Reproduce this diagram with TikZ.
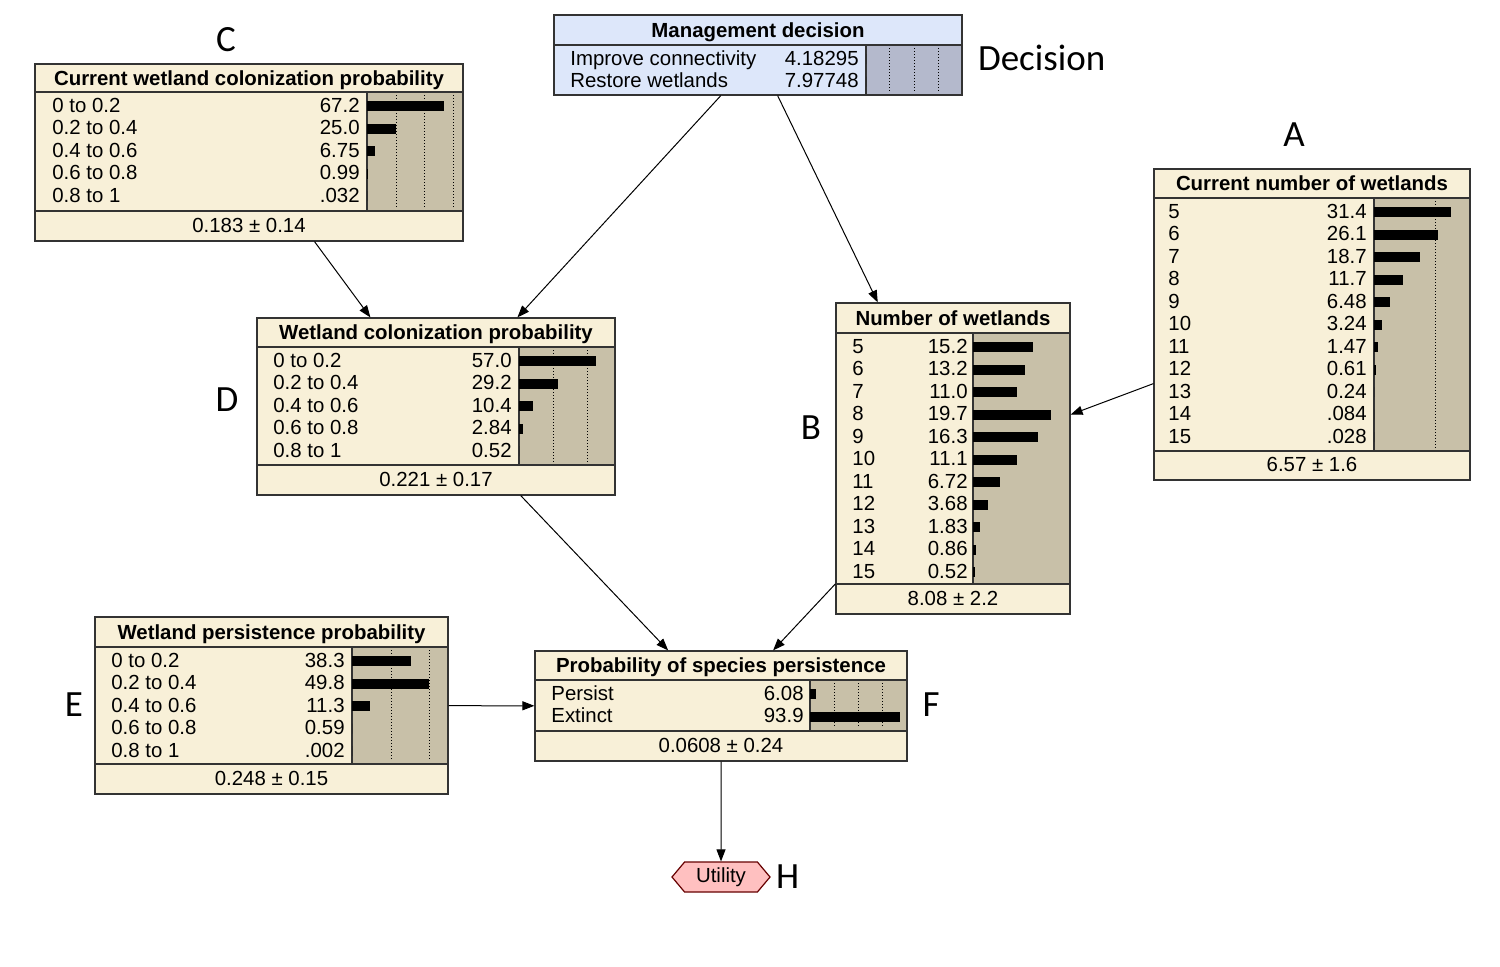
\documentclass[tikz,border=0pt]{standalone}
\usepackage{fontspec}
\setmainfont{Liberation Sans}
\newfontfamily\tagfont{Carlito}
\usetikzlibrary{positioning,fit,arrows.meta,shapes.symbols}

\definecolor{bncream}{RGB}{248,240,216}
\definecolor{bnbar}{RGB}{200,192,168}
\definecolor{bnblue}{RGB}{221,231,250}
\definecolor{bnbluebar}{RGB}{180,185,204}
\definecolor{bnpink}{RGB}{255,192,192}

% state rows: name, label x, value x, bar x, first baseline, px per %, list
\newcommand{\staterows}[7]{%
  \foreach \lab/\val/\pc [count=\i] in {#7} {
    \pgfmathsetmacro{\by}{#5+(\i-1)*22.5}
    \node[st, anchor=base west] (#1-s\i) at (#2,\by) {\lab};
    \node[st, anchor=base east] (#1-v\i) at (#3,\by) {\val};
    \fill (#4,{\by-11}) rectangle ++({#6*\pc},10);
  }%
}

\begin{document}
\begin{tikzpicture}[x=0.5pt, y=-0.5pt,
  >={Triangle[length=6pt,width=4.5pt]},
  bnbox/.style={draw=black!80, fill=bncream, line width=0.6pt, inner sep=0pt},
  rule/.style={draw=black!80, line width=0.6pt},
  gridln/.style={densely dotted, line width=0.5pt},
  st/.style={inner sep=0pt, font=\fontsize{10.2}{12}\selectfont},
  ttl/.style={inner sep=0pt, anchor=base, font=\fontsize{10.2}{12}\selectfont\bfseries},
  tagtext/.style={inner sep=0pt, font=\tagfont\fontsize{18.5}{20}\selectfont},
  utilnode/.style={signal, signal to=west and east, signal pointer angle=100,
    draw=black!60!red, fill=bnpink, line width=0.6pt, inner sep=0pt,
    minimum width=49pt, minimum height=15pt, font=\fontsize{10.2}{12}\selectfont},
  link/.style={->, line width=0.5pt}]

  \useasboundingbox (0,0) rectangle (1500,966);

  % Management decision
  \node[bnbox, fill=bnblue, fit={(554,15) (962,95)}] (md) {};
  \fill[bnbluebar] (866,45) rectangle (961.4,94.4);
  \draw[rule] (554,45) -- (962,45) (866,45) -- (866,95);
  \foreach \gx in {889,914,938} \draw[gridln] (\gx,48) -- (\gx,92);
  \node[ttl] (md-t) at (758,37) {Management decision};
  \staterows{md}{570}{859}{866}{65}{0}{Improve connectivity/4.18295/0, Restore wetlands/7.97748/0}

  % C
  \node[bnbox, fit={(35,64) (463,241)}] (cwcp) {};
  \fill[bnbar] (367,92) rectangle (462.4,211);
  \draw[rule] (35,92) -- (463,92) (35,211) -- (463,211) (367,92) -- (367,211);
  \foreach \gx in {396,424,453} \draw[gridln] (\gx,95) -- (\gx,208);
  \node[ttl] (cwcp-t) at (249,85) {Current wetland colonization probability};
  \staterows{cwcp}{52}{360}{367}{112}{1.15}{0 to 0.2/67.2/67.2, 0.2 to 0.4/25.0/25.0, 0.4 to 0.6/6.75/6.75, 0.6 to 0.8/0.99/0.9, 0.8 to 1/.032/0}
  \node[st, anchor=base] (cwcp-m) at (249,232) {0.183 ± 0.14};

  % A
  \node[bnbox, fit={(1154,169) (1470,480)}] (cnw) {};
  \fill[bnbar] (1374,198) rectangle (1469.4,451);
  \draw[rule] (1154,198) -- (1470,198) (1154,451) -- (1470,451) (1374,198) -- (1374,451);
  \draw[gridln] (1435,201) -- (1435,448);
  \node[ttl] (cnw-t) at (1312,190) {Current number of wetlands};
  \staterows{cnw}{1168}{1367}{1374}{218}{2.45}{5/31.4/31.4, 6/26.1/26.1, 7/18.7/18.7, 8/11.7/11.7, 9/6.48/6.48, 10/3.24/3.24, 11/1.47/1.47, 12/0.61/0.61, 13/0.24/0, 14/.084/0, 15/.028/0}
  \node[st, anchor=base] (cnw-m) at (1312,471) {6.57 ± 1.6};

  % B
  \node[bnbox, fit={(836,303) (1070,614)}] (nw) {};
  \fill[bnbar] (973,333) rectangle (1069.4,584);
  \draw[rule] (836,333) -- (1070,333) (836,584) -- (1070,584) (973,333) -- (973,584);
  \node[ttl] (nw-t) at (953,325) {Number of wetlands};
  \staterows{nw}{852}{968}{973}{353}{3.96}{5/15.2/15.2, 6/13.2/13.2, 7/11.0/11.0, 8/19.7/19.7, 9/16.3/16.3, 10/11.1/11.1, 11/6.72/6.72, 12/3.68/3.68, 13/1.83/1.83, 14/0.86/0.86, 15/0.52/0.52}
  \node[st, anchor=base] (nw-m) at (953,605) {8.08 ± 2.2};

  % D
  \node[bnbox, fit={(257,318) (615,495)}] (wcp) {};
  \fill[bnbar] (519,347) rectangle (614.4,465);
  \draw[rule] (257,347) -- (615,347) (257,465) -- (615,465) (519,347) -- (519,465);
  \foreach \gx in {553,587} \draw[gridln] (\gx,350) -- (\gx,462);
  \node[ttl] (wcp-t) at (436,339.5) {Wetland colonization probability};
  \staterows{wcp}{273}{512}{519}{367}{1.35}{0 to 0.2/57.0/57.0, 0.2 to 0.4/29.2/29.2, 0.4 to 0.6/10.4/10.4, 0.6 to 0.8/2.84/2.84, 0.8 to 1/0.52/0}
  \node[st, anchor=base] (wcp-m) at (436,486) {0.221 ± 0.17};

  % E
  \node[bnbox, fit={(95,617) (448,794)}] (wpp) {};
  \fill[bnbar] (352,647) rectangle (447.4,764);
  \draw[rule] (95,647) -- (448,647) (95,764) -- (448,764) (352,647) -- (352,764);
  \foreach \gx in {391,429} \draw[gridln] (\gx,650) -- (\gx,761);
  \node[ttl] (wpp-t) at (271.5,639) {Wetland persistence probability};
  \staterows{wpp}{111}{345}{352}{667}{1.55}{0 to 0.2/38.3/38.3, 0.2 to 0.4/49.8/49.8, 0.4 to 0.6/11.3/11.3, 0.6 to 0.8/0.59/0, 0.8 to 1/.002/0}
  \node[st, anchor=base] (wpp-m) at (271.5,785) {0.248 ± 0.15};

  % F
  \node[bnbox, fit={(535,651) (907,761)}] (psp) {};
  \fill[bnbar] (810,680) rectangle (906.4,731);
  \draw[rule] (535,680) -- (907,680) (535,731) -- (907,731) (810,680) -- (810,731);
  \foreach \gx in {834,858,882} \draw[gridln] (\gx,683) -- (\gx,728);
  \node[ttl] (psp-t) at (721,672.5) {Probability of species persistence};
  \staterows{psp}{551}{804}{810}{700}{0.96}{Persist/6.08/6.08, Extinct/93.9/93.9}
  \node[st, anchor=base] (psp-m) at (721,752) {0.0608 ± 0.24};

  % utility
  \node[utilnode] (util) at (721,877) {Utility};

  % letters
  \node[tagtext] (lblC) at (226,40) {C};
  \node[tagtext, right=7.5pt of md, yshift=-1.5pt] (lblDec) {Decision};
  \node[tagtext] (lblA) at (1294,135) {A};
  \node[tagtext] (lblD) at (227,400) {D};
  \node[tagtext] (lblB) at (811,428) {B};
  \node[tagtext] (lblE) at (74,705) {E};
  \node[tagtext] (lblF) at (931,705) {F};
  \node[tagtext, right=2.5pt of util] (lblH) {H};

  \draw[link] (cwcp) -- (wcp);
  \draw[link] (md) -- (wcp);
  \draw[link] (md) -- (nw);
  \draw[link] (cnw) -- (nw);
  \draw[link] (wcp) -- (psp);
  \draw[link] (nw) -- (psp);
  \draw[link] (wpp) -- (psp);
  \draw[link] (psp) -- (util);

\end{tikzpicture}
\end{document}
